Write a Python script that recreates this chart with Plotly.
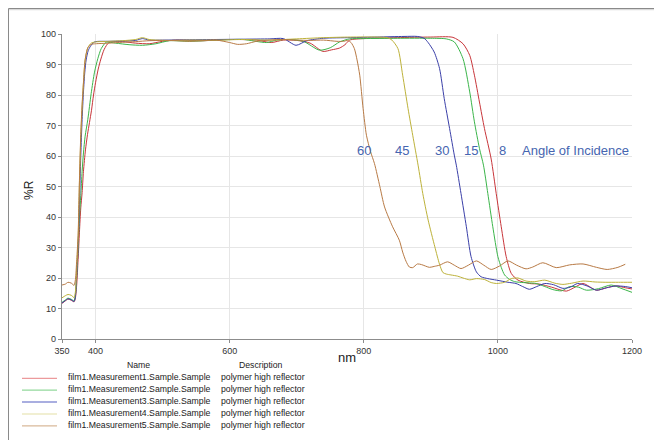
import plotly.graph_objects as go

# ---------------- data ----------------
wl_8 = [350,355,359,364,368,370,372,374,376,378,380,382,385,388,391,394,397,400,404,408,413,420,440,460,480,500,520,560,600,640,662,680,700,720,739,752,764,772,779,800,850,900,933,948,958,965,972.5,980,990,997.5,1005,1012.4,1020,1030,1047,1062,1080,1102,1115,1127,1147,1162,1176,1190,1200]
r_8 = [11.7,12.5,13.1,12.7,12.2,13.5,18,26,35,43,48,55,62,67,71,75,80,84,88.5,91.8,95,97.2,97.5,97.0,96.8,97.6,98.0,97.8,98.2,98.0,97.2,98.0,97.9,97.0,94.3,94.8,95.4,96.5,98.0,98.5,98.8,99.0,98.9,96.8,93,86.5,77.7,69,59,47.7,36.8,27,21.5,19.3,18.2,18.0,17.0,15.7,17.0,18.2,16.0,16.8,17.4,16.8,16.4]

wl_15 = [350,355,359,364,368,370,372,374,376,378,380,382,384.5,388.5,393.5,398.5,403.5,408.5,416,430,450,470,490,510,540,580,620,655,670,690,710,734,750,764,779,800,850,900,923,935,948,958,965,972.5,978.5,985,992.4,1000,1005,1010,1017,1025,1032,1045,1057,1070,1082,1095,1107,1120,1132,1150,1169,1185,1200]
r_15 = [12.0,12.8,13.4,13.0,12.5,14.5,21,30,40,47,55,61,66.5,72,80.5,87.5,92,95.2,97.3,97.0,96.5,96.3,96.8,97.8,97.6,98.0,98.2,97.2,98.0,98.2,97.6,94.7,95.5,97.4,98.4,98.5,98.6,98.6,98.4,97.4,91.9,81,71.2,62.5,57,47.7,36.8,27,23.5,21.0,19.6,18.8,18.6,18.4,18.2,17.2,16.2,15.8,17.2,17.0,16.0,16.5,17.7,16.5,15.3]

wl_30 = [350,355,359,364,368,370,372,374,376,378,380,382,384,386,389,392.5,398.5,420,440,460,470,480,500,540,580,620,660,680,699,715,740,780,820,860,880,890,896,905,913,920,928,935,938,945,953,960,968,975,985,998,1015,1027,1037,1047,1058,1070,1083,1097,1108,1119,1133,1147,1162,1176,1190,1200]
r_30 = [11.8,12.6,13.2,12.8,12.3,14,21,30,44,60,72,81,87.5,91.5,94.5,96,97.4,97.6,97.7,97.9,98.5,98.0,98.0,98.1,98.2,98.3,98.4,98.5,96.3,97.8,98.6,98.8,99.0,99.2,99.2,98.6,97.2,94.1,88.7,78.8,69,60.3,57,47.7,36.8,27,22,20.4,19.8,19.3,18.6,18.2,17.2,16.3,17.2,18.2,17.8,16.6,17.0,18.2,17.4,16.0,16.8,17.4,17.2,16.8]

wl_45 = [350,355,359,364,368,370,372,374,376,378,380,382,384.5,388.5,393.5,400,420,440,460,470,480,500,540,580,620,660,700,740,780,820,835,842,851,858,866,873,881,888,896,906,913,918,923,930,940,948,958,968,980,990,998,1010,1020,1030,1042,1055,1070,1085,1097,1110,1127,1145,1160,1180,1200]
r_45 = [13.5,14.2,14.6,14.3,13.6,15.5,23,32,51,66,76,84,91.5,95.5,97.0,97.4,97.6,97.8,98.2,98.8,98.2,97.9,98.0,98.0,98.2,98.0,98.4,98.8,99.0,99.0,98.8,98.0,95.2,86.5,75.6,66.8,57,47.7,39,30.2,24.5,21.8,21.3,21.0,20.6,20.0,19.4,19.8,19.5,18.5,18.2,18.6,19.8,20.0,19.0,18.8,19.3,18.3,17.9,18.3,19.0,18.7,18.6,18.6,18.6]

wl_60 = [350,355,359,364,368,370,372,374,376,378,380,382,384.5,388.5,393.5,400,420,440,460,480,500,520,540,560,580,600,612,625,640,660,680,700,720,740,760,770,776,781,786,790,794,799,804,810,816,824,831,843,853,858,863,868,873,880,886,898,905,913,925,935,945,956,968,979,990,1003,1015,1028,1042,1052,1067,1087,1107,1127,1147,1163,1179,1190,1200]
r_60 = [17.7,18.0,18.6,18.3,17.6,19.5,26,34,52,67,77,84,91.5,95.5,96.6,96.8,97.0,97.3,97.5,97.8,97.9,97.8,97.6,97.8,98.0,97.2,96.6,96.8,97.6,98.0,98.2,98.0,97.9,98.0,97.6,97.6,97.9,97.2,95.2,91.5,86.5,75.6,66.8,61.5,57.5,50,43.3,36.8,32.4,28.5,25.5,23.6,23.4,24.6,24.4,23.5,23.8,24.2,25.3,24.2,23.1,24.2,25.6,24.2,22.8,24,25.6,24.2,23.0,23.6,25.0,23.4,24.3,24.6,23.5,22.8,23.5,24.5]

series_names = ["film1.Measurement1.Sample.Sample", "film1.Measurement2.Sample.Sample",
                "film1.Measurement3.Sample.Sample", "film1.Measurement4.Sample.Sample",
                "film1.Measurement5.Sample.Sample"]
series_desc = ["polymer high reflector"] * 5
angle_labels = ["60", "45", "30", "15", "8"]
angle_x = [800, 857, 916, 960, 1007]
angle_title = "Angle of Incidence"
x_ticks = [350, 400, 600, 800, 1000, 1200]
y_ticks = list(range(0, 101, 10))

colors = ["#c8353a", "#3bb54a", "#3a3fa8", "#bdb23a", "#b87a45"]
legend_colors = ["#ec9a9c", "#93d99c", "#a9aee0", "#e4dfa6", "#d9b99a"]

# ---------------- figure ----------------
W, H = 654, 440
ML, MR, MT, MB = 62, 22, 34, 101
PW, PH = W - ML - MR, H - MT - MB

def px(x):
    return (x - ML) / PW

def py(y):
    return (H - MB - y) / PH

fig = go.Figure()
data = [(wl_8, r_8), (wl_15, r_15), (wl_30, r_30), (wl_45, r_45), (wl_60, r_60)]
for (x, y), c, n in zip(data, colors, series_names):
    fig.add_trace(go.Scatter(x=x, y=y, mode="lines", name=n,
                             line=dict(color=c, width=1, shape="spline", smoothing=0.7),
                             showlegend=False, hoverinfo="skip"))

font_main = "Liberation Sans, Arial, sans-serif"
ann = []
for lab, xv in zip(angle_labels, angle_x):
    ann.append(dict(x=xv, y=61.9, xref="x", yref="y", text=lab, showarrow=False,
                    font=dict(family=font_main, size=13, color="#4665b0"), xanchor="center", yanchor="middle"))
ann.append(dict(x=px(575), y=py(150), xref="paper", yref="paper", text=angle_title, showarrow=False,
                font=dict(family=font_main, size=13, color="#4665b0"), xanchor="center", yanchor="middle"))

ann.append(dict(x=px(347), y=py(357), xref="paper", yref="paper", text="nm", showarrow=False,
                font=dict(family=font_main, size=13, color="#222"), xanchor="center", yanchor="middle"))
ann.append(dict(x=px(29), y=py(190), xref="paper", yref="paper", text="%R", showarrow=False, textangle=-90,
                font=dict(family=font_main, size=12, color="#222"), xanchor="center", yanchor="middle"))

# legend table
lf = dict(family=font_main, size=8.7, color="#222")
ann.append(dict(x=px(138), y=py(365), xref="paper", yref="paper", text="Name", showarrow=False,
                font=lf, xanchor="center", yanchor="middle"))
ann.append(dict(x=px(261), y=py(365), xref="paper", yref="paper", text="Description", showarrow=False,
                font=lf, xanchor="center", yanchor="middle"))
shapes = []
row_y = [377.3, 389.2, 401.1, 413.0, 424.9]
for i, (n, d, lc) in enumerate(zip(series_names, series_desc, legend_colors)):
    yy = row_y[i]
    ann.append(dict(x=px(66), y=py(yy), xref="paper", yref="paper", text=n, showarrow=False,
                    font=lf, xanchor="left", yanchor="middle"))
    ann.append(dict(x=px(219), y=py(yy), xref="paper", yref="paper", text=d, showarrow=False,
                    font=lf, xanchor="left", yanchor="middle"))
    shapes.append(dict(type="line", xref="paper", yref="paper", x0=px(22), x1=px(57),
                       y0=py(yy + 1), y1=py(yy + 1), line=dict(color=lc, width=2 if i == 2 else 1.2)))

# outer frame
shapes.append(dict(type="rect", xref="paper", yref="paper", x0=px(8.5), x1=px(670), y0=py(8.5), y1=py(460),
                   line=dict(color="#8a8a8a", width=1), layer="below"))
shapes.append(dict(type="line", xref="paper", yref="paper", x0=px(9), x1=px(670), y0=py(9.7), y1=py(9.7),
                   line=dict(color="#d0d0d0", width=1), layer="below"))

fig.update_layout(
    width=W, height=H,
    margin=dict(l=ML, r=MR, t=MT, b=MB),
    paper_bgcolor="white", plot_bgcolor="white",
    annotations=ann, shapes=shapes,
    font=dict(family=font_main, size=9, color="#333"),
    xaxis=dict(range=[350, 1200], tickvals=x_ticks, ticktext=[str(v) for v in x_ticks],
               showgrid=True, gridcolor="#e6e6e6", gridwidth=1,
               showline=True, linecolor="#8c8c8c", linewidth=1.2,
               ticks="outside", ticklen=3, tickcolor="#8c8c8c",
               tickfont=dict(family=font_main, size=9, color="#333"), zeroline=False),
    yaxis=dict(range=[0, 100], tickvals=y_ticks,
               showgrid=True, gridcolor="#e6e6e6", gridwidth=1,
               showline=True, linecolor="#8c8c8c", linewidth=1.2,
               ticks="outside", ticklen=3, tickcolor="#8c8c8c",
               tickfont=dict(family=font_main, size=9, color="#333"), zeroline=False),
)

fig.write_html("out.html", config={"displayModeBar": False},
               post_script="document.body.style.margin='0px';document.body.style.overflow='hidden';")
